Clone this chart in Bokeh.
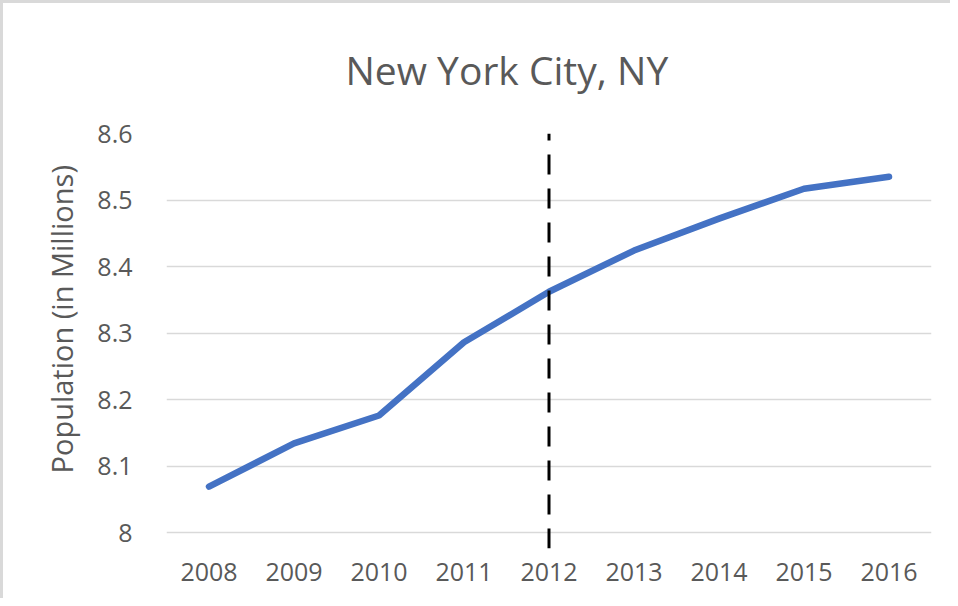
from bokeh.plotting import figure
from bokeh.models import FactorRange, Range1d, FixedTicker, Title
from bokeh.embed import file_html
from bokeh.resources import INLINE

years = ["2008", "2009", "2010", "2011", "2012", "2013", "2014", "2015", "2016"]
population = [8.069, 8.134, 8.176, 8.286, 8.362, 8.424, 8.472, 8.517, 8.535]
y_ticks = [8.0, 8.1, 8.2, 8.3, 8.4, 8.5, 8.6]
marker_year = "2012"
title_text = "New York City, NY"
y_label = "Population (in Millions)"

GRAY = "#595959"
FONT = "Open Sans"

p = figure(width=950, height=598, output_backend="svg", toolbar_location=None,
           x_range=FactorRange(factors=years, range_padding=0),
           y_range=Range1d(7.976, 8.6),
           min_border_left=163, min_border_right=22, min_border_top=130, min_border_bottom=53)
p.styles = {"border-top": "3px solid #d9d9d9", "border-left": "3px solid #d9d9d9"}
p.outline_line_color = None
p.background_fill_color = "white"
p.border_fill_color = "white"

t = Title(text=title_text, align="left", offset=179, standoff=72, vertical_align="top",
          text_font=FONT, text_font_size="39px", text_font_style="normal", text_color=GRAY)
p.add_layout(t, "above")

ylab = Title(text=y_label, align="left", offset=75, standoff=27,
             text_font=FONT, text_font_size="29px", text_font_style="normal", text_color=GRAY)
p.add_layout(ylab, "left")

p.line(x=years, y=population, line_color="#4472C4", line_width=6.5, line_cap="round", line_join="round")

p.line(x=[marker_year, marker_year], y=[p.y_range.start, y_ticks[-1]], line_color="black",
       line_width=3, line_dash="20 14")

p.xgrid.grid_line_color = None
p.ygrid.ticker = FixedTicker(ticks=y_ticks)
p.ygrid.grid_line_color = "#d9d9d9"
p.ygrid.grid_line_width = 1.5

p.yaxis.ticker = FixedTicker(ticks=y_ticks)
p.yaxis.major_label_overrides = {v: ("8" if v == 8.0 else f"{v:.1f}") for v in y_ticks}
for ax in (p.xaxis[0], p.yaxis[0]):
    ax.axis_line_color = None
    ax.major_tick_line_color = None
    ax.minor_tick_line_color = None
    ax.major_label_text_font = FONT
    ax.major_label_text_font_size = "25px"
    ax.major_label_text_color = GRAY
p.yaxis.major_label_standoff = 28
p.xaxis.major_label_standoff = 8

open("out.html", "w").write(file_html(p, INLINE))
